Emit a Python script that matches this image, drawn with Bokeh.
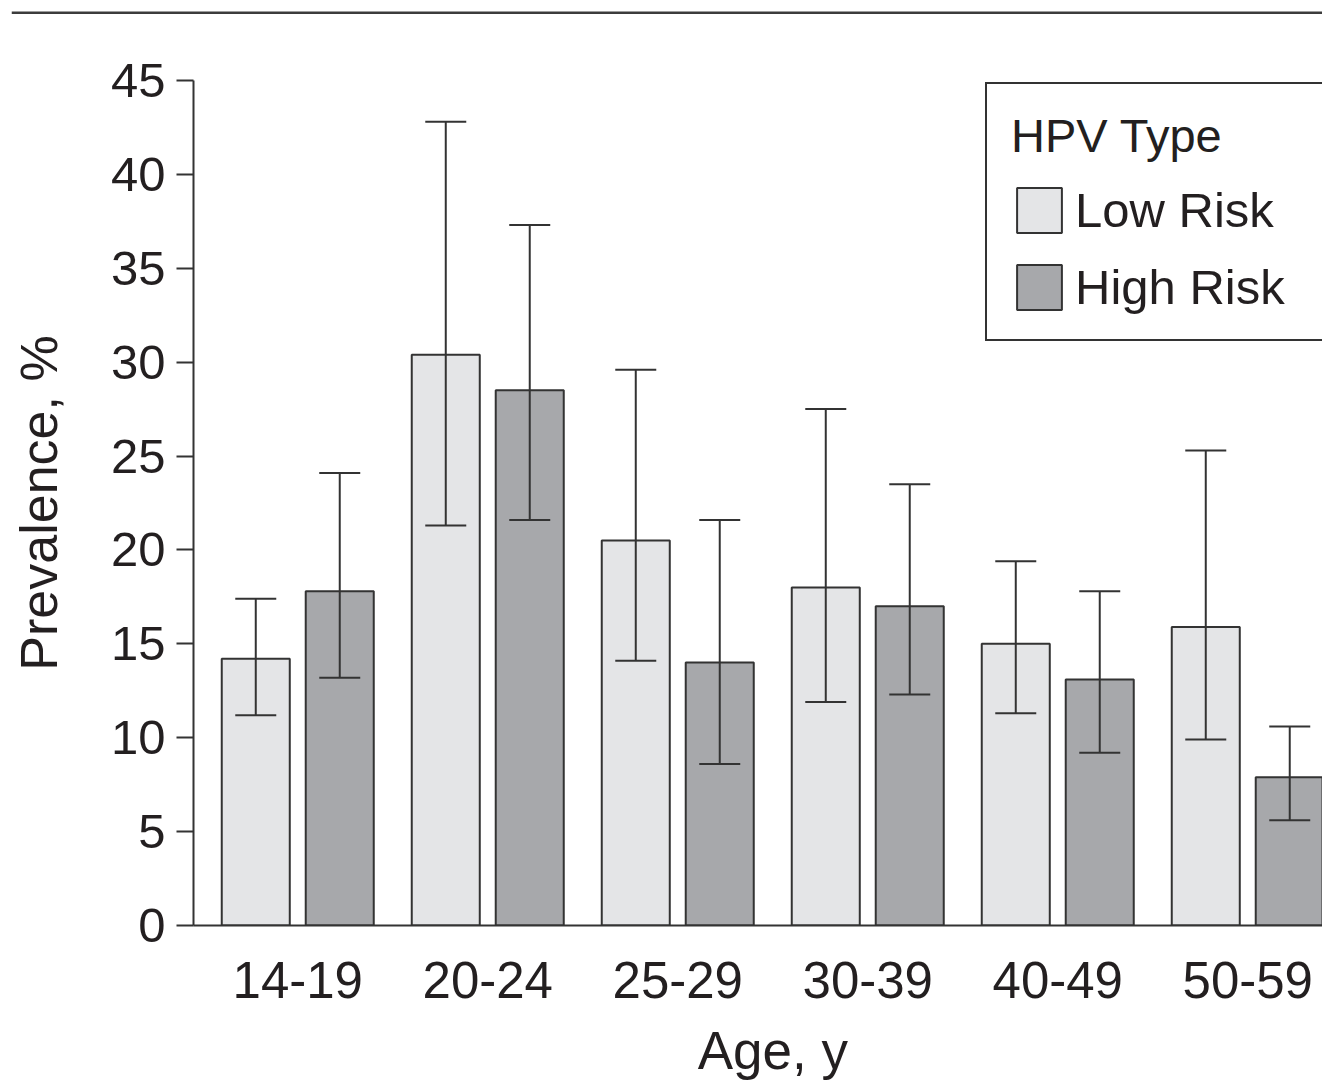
from bokeh.plotting import figure
from bokeh.models import (Range1d, FixedTicker, Whisker, ColumnDataSource, Legend,
                          LegendItem, TeeHead, Span, Label)
from bokeh.layouts import column
from bokeh.embed import file_html
from bokeh.resources import INLINE

# ---- data ----
ages = ["14-19", "20-24", "25-29", "30-39", "40-49", "50-59"]
low_risk = [14.2, 30.4, 20.5, 18.0, 15.0, 15.9]
low_lower = [11.2, 21.3, 14.1, 11.9, 11.3, 9.9]
low_upper = [17.4, 42.8, 29.6, 27.5, 19.4, 25.3]
high_risk = [17.8, 28.5, 14.0, 17.0, 13.1, 7.9]
high_lower = [13.2, 21.6, 8.6, 12.3, 9.2, 5.6]
high_upper = [24.1, 37.3, 21.6, 23.5, 17.8, 10.6]
y_ticks = [0, 5, 10, 15, 20, 25, 30, 35, 40, 45]

FONT = "Liberation Sans"
TEXT = "#231f20"
LINE = "#333333"
LOW_FILL = "#e4e5e7"
HIGH_FILL = "#a7a8ab"

idx = list(range(len(ages)))
off = 0.221
bw = 0.358
X0, X1 = -0.5487, 5.3934

src_low = ColumnDataSource(dict(x=[i - off for i in idx], top=low_risk,
                                lower=low_lower, upper=low_upper))
src_high = ColumnDataSource(dict(x=[i + off for i in idx], top=high_risk,
                                 lower=high_lower, upper=high_upper))


def bare(width, height, x_range, y_range, left):
    f = figure(width=width, height=height, x_range=x_range, y_range=y_range,
               output_backend="svg", toolbar_location=None, title_location=None,
               min_border_left=left, min_border_right=0, min_border_top=0,
               min_border_bottom=0, x_axis_location=None, y_axis_location=None)
    f.frame_align = False
    f.outline_line_color = None
    f.grid.grid_line_color = None
    return f


# ---- thin rule at the very top ----
rule = bare(1322, 14, Range1d(0, 1), Range1d(0, 14), 11)
rule.add_layout(Span(location=1.5, dimension="width", line_color="#3c3c3c",
                     line_width=3))

# ---- main chart ----
p = figure(width=1322, height=1006,
           x_range=Range1d(X0, X1), y_range=Range1d(0, 45),
           output_backend="svg", toolbar_location=None, title_location=None,
           min_border_left=193, min_border_right=0,
           min_border_top=66, min_border_bottom=95)
p.frame_align = False
p.outline_line_color = None
p.grid.grid_line_color = None
p.background_fill_color = "white"
p.border_fill_color = "white"

r_low = p.vbar(x="x", top="top", width=bw, bottom=0, source=src_low,
               fill_color=LOW_FILL, line_color=LINE, line_width=2)
r_high = p.vbar(x="x", top="top", width=bw, bottom=0, source=src_high,
                fill_color=HIGH_FILL, line_color=LINE, line_width=2)

for src in (src_low, src_high):
    w = Whisker(base="x", lower="lower", upper="upper", source=src,
                line_color=LINE, line_width=2, level="overlay",
                upper_head=TeeHead(size=41, line_color=LINE, line_width=2),
                lower_head=TeeHead(size=41, line_color=LINE, line_width=2))
    p.add_layout(w)

# y axis
ya = p.yaxis[0]
ya.ticker = FixedTicker(ticks=y_ticks)
ya.major_tick_out = 17
ya.major_tick_in = 0
ya.minor_tick_line_color = None
ya.axis_line_width = 2
ya.axis_line_color = LINE
ya.major_tick_line_width = 2
ya.major_tick_line_color = LINE
ya.major_label_text_font = FONT
ya.major_label_text_font_size = "49px"
ya.major_label_text_color = TEXT
ya.major_label_standoff = 11
ya.axis_label = "Prevalence, %"
ya.axis_label_text_font = FONT
ya.axis_label_text_font_size = "52px"
ya.axis_label_text_font_style = "normal"
ya.axis_label_text_color = TEXT
ya.axis_label_standoff = 40

# x axis
xa = p.xaxis[0]
xa.ticker = FixedTicker(ticks=idx)
xa.major_label_overrides = {i: a for i, a in zip(idx, ages)}
xa.major_tick_line_color = None
xa.major_tick_out = 0
xa.major_tick_in = 0
xa.minor_tick_line_color = None
xa.axis_line_width = 2
xa.axis_line_color = LINE
xa.major_label_text_font = FONT
xa.major_label_text_font_size = "51px"
xa.major_label_text_color = TEXT
xa.major_label_standoff = 36

legend = Legend(items=[LegendItem(label="Low Risk", renderers=[r_low]),
                       LegendItem(label="High Risk", renderers=[r_high])],
                title="HPV Type", location=(792, 584))
legend.border_line_color = LINE
legend.border_line_width = 2
legend.border_line_alpha = 1
legend.background_fill_color = "white"
legend.background_fill_alpha = 1
legend.padding = 24
legend.margin = 0
legend.glyph_width = 56
legend.glyph_height = 56
legend.label_height = 56
legend.label_width = 240
legend.label_standoff = 8
legend.spacing = 21
legend.label_text_font = FONT
legend.label_text_font_size = "49px"
legend.label_text_color = TEXT
legend.title_text_font = FONT
legend.title_text_font_size = "47px"
legend.title_text_font_style = "normal"
legend.title_text_color = TEXT
legend.title_standoff = 19
p.add_layout(legend)

# ---- x axis title strip ----
cap = bare(1322, 62, Range1d(X0, X1), Range1d(0, 62), 193)
cap.add_layout(Label(x=(idx[0] + idx[-1]) / 2, y=32, text="Age, y", text_align="center",
                     text_baseline="alphabetic", text_font=FONT,
                     text_font_size="53px", text_color=TEXT))

layout = column(rule, p, cap, spacing=0)
open("out.html", "w").write(file_html(layout, INLINE))
